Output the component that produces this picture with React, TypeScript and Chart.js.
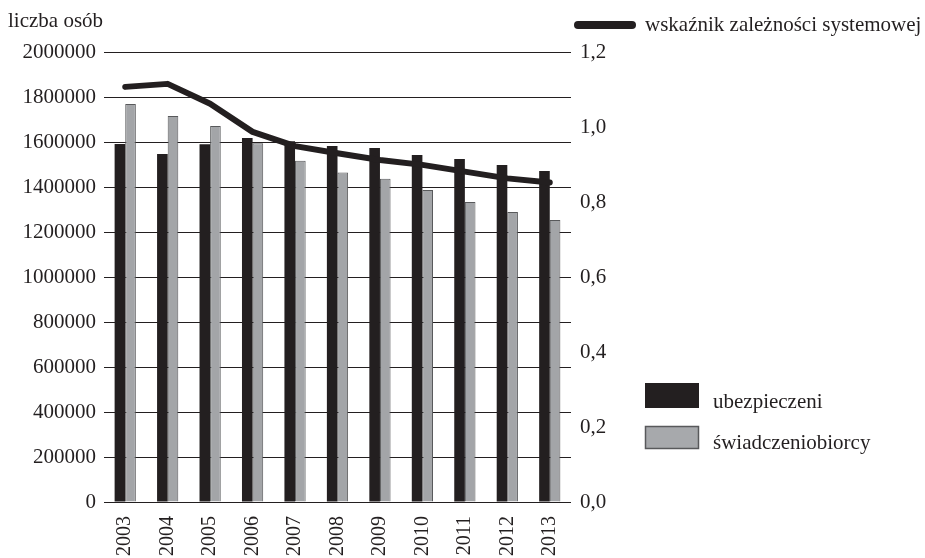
import React, { useEffect, useRef } from 'react';
import { Chart, registerables } from 'chart.js';

Chart.register(...registerables);

const years = ['2003', '2004', '2005', '2006', '2007', '2008', '2009', '2010', '2011', '2012', '2013'];
const insured = [1591000, 1547000, 1590000, 1618000, 1603000, 1582000, 1573000, 1542000, 1524000, 1498000, 1471000];
const beneficiaries = [1769000, 1716000, 1671000, 1594000, 1517000, 1464000, 1437000, 1387000, 1333000, 1289000, 1253000];
const ratio = [1.107, 1.115, 1.062, 0.987, 0.949, 0.93, 0.912, 0.899, 0.881, 0.863, 0.852];

const seriesNames = ['ubezpieczeni', 'świadczeniobiorcy', 'wskaźnik zależności systemowej'];
const leftAxisTitle = 'liczba osób';

const FONT = '"Liberation Serif", "Times New Roman", serif';
const INK = '#231f20';
const GRAY = '#a7a9ac';
const GRAY_BORDER = '#58595b';

const legendPlugin = {
  id: 'customLegend',
  afterDraw(chart: any) {
    const ctx = chart.ctx as CanvasRenderingContext2D;
    ctx.save();
    ctx.font = `21px ${FONT}`;
    ctx.fillStyle = INK;
    ctx.textBaseline = 'middle';
    ctx.textAlign = 'left';
    // axis title
    ctx.fillText(leftAxisTitle, 8, 21);
    // line legend
    ctx.strokeStyle = INK;
    ctx.lineWidth = 8;
    ctx.lineCap = 'round';
    ctx.beginPath();
    ctx.moveTo(578, 25);
    ctx.lineTo(632, 25);
    ctx.stroke();
    ctx.fillText(seriesNames[2], 645, 25);
    // bar legends
    ctx.fillStyle = INK;
    ctx.fillRect(645, 383, 54, 25);
    ctx.fillStyle = GRAY;
    ctx.fillRect(645, 426, 54, 23);
    ctx.strokeStyle = GRAY_BORDER;
    ctx.lineWidth = 1.5;
    ctx.strokeRect(645.5, 426.5, 53, 22);
    ctx.fillStyle = INK;
    ctx.fillText(seriesNames[0], 713, 402);
    ctx.fillText(seriesNames[1], 713, 443);
    ctx.restore();
  },
};

export default function App() {
  const ref = useRef<HTMLCanvasElement>(null);

  useEffect(() => {
    if (!ref.current) return;
    const font = { family: FONT, size: 21 };
    const chart = new Chart(ref.current, {
      type: 'bar',
      data: {
        labels: years,
        datasets: [
          {
            type: 'line',
            label: seriesNames[2],
            data: ratio,
            yAxisID: 'y1',
            borderColor: INK,
            borderWidth: 6,
            borderCapStyle: 'round',
            borderJoinStyle: 'round',
            pointRadius: 0,
            tension: 0,
            order: 0,
          } as any,
          {
            type: 'bar',
            label: seriesNames[0],
            data: insured,
            yAxisID: 'y',
            backgroundColor: INK,
            borderColor: INK,
            borderWidth: 0,
            categoryPercentage: 0.5,
            barPercentage: 1,
            order: 1,
          },
          {
            type: 'bar',
            label: seriesNames[1],
            data: beneficiaries,
            yAxisID: 'y',
            backgroundColor: '#a3a5a8',
            borderColor: GRAY_BORDER,
            borderWidth: 1,
            categoryPercentage: 0.5,
            barPercentage: 1,
            order: 1,
          },
        ],
      },
      options: {
        responsive: false,
        animation: false,
        layout: { padding: { top: 52, left: 0, right: 0, bottom: 0 } },
        plugins: {
          legend: { display: false },
          tooltip: { enabled: false },
          title: { display: false },
        },
        scales: {
          x: {
            grid: { display: false, drawTicks: false },
            border: { display: false },
            ticks: { minRotation: 90, maxRotation: 90, padding: 14, font: { family: FONT, size: 20 }, color: INK },
            afterFit: (s: any) => {
              s.height = 56;
            },
          },
          y: {
            position: 'left',
            min: 0,
            max: 2000000,
            ticks: {
              stepSize: 200000,
              padding: 8,
              font,
              color: INK,
              callback: (v: any) => String(v),
            },
            grid: { color: INK, lineWidth: 1, drawTicks: false },
            border: { display: false },
            afterFit: (s: any) => {
              s.width = 104;
            },
          },
          y1: {
            position: 'right',
            min: 0,
            max: 1.2,
            ticks: {
              stepSize: 0.2,
              padding: 9,
              font,
              color: INK,
              callback: (v: any) => Number(v).toFixed(1).replace('.', ','),
            },
            grid: { display: false, drawTicks: false },
            border: { display: false },
            afterFit: (s: any) => {
              s.width = 354;
            },
          },
        },
      },
      plugins: [legendPlugin],
    });
    return () => chart.destroy();
  }, []);

  return (
    <div style={{ position: 'absolute', left: 0, top: 0, width: 925, height: 558, background: '#fff' }}>
      <canvas ref={ref} width={925} height={558} style={{ width: 925, height: 558, display: 'block' }} />
    </div>
  );
}
